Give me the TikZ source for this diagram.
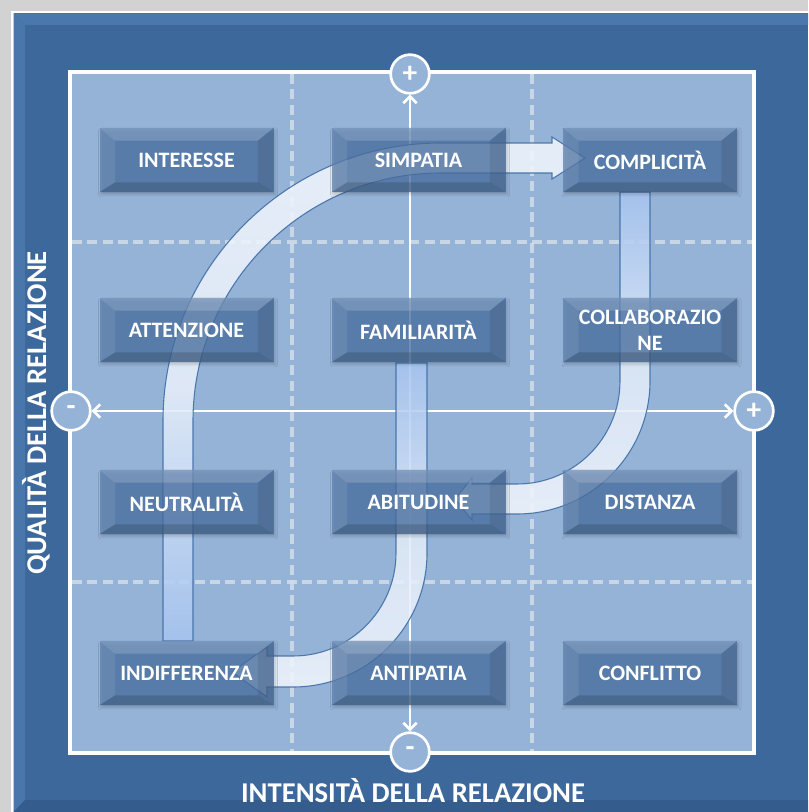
\documentclass[tikz,border=0pt]{standalone}
\usepackage{fontspec}
\setmainfont{Carlito}
\usetikzlibrary{arrows.meta,shadows.blur}

\definecolor{outergrey}{HTML}{D2D2D2}
\definecolor{frameblue}{HTML}{3D689B}
\definecolor{framelight}{HTML}{4A78AE}
\definecolor{framedark}{HTML}{345C8C}
\definecolor{panelblue}{HTML}{95B3D7}
\definecolor{boxblue}{HTML}{4C74A7}
\definecolor{bandedge}{HTML}{3E6DA6}
\definecolor{bandlight}{HTML}{F0F5FC}
\definecolor{bandblue}{HTML}{A6C4EF}
\definecolor{gridline}{HTML}{D3DDE9}

\tikzset{
  quadbox/.style={rectangle, minimum width=130.5pt, minimum height=48pt, inner sep=0pt,
    fill=boxblue, fill opacity=0.72, text opacity=1, text=white,
    font=\bfseries\fontsize{16.5}{19.5}\selectfont, align=center,
    blur shadow={shadow xshift=1.2pt, shadow yshift=-1.8pt, shadow blur steps=6, shadow opacity=25}},
  pmcircle/.style={circle, draw=white, line width=2pt, fill=panelblue, minimum size=29pt,
    inner sep=0pt, text=white, font=\bfseries\fontsize{22}{22}\selectfont},
  axisline/.style={draw=white, line width=2pt,
    arrows={Straight Barb[length=5pt,width=10pt]-Straight Barb[length=5pt,width=10pt]}},
  gridrule/.style={draw=gridline, opacity=0.85, line width=2.5pt, dash pattern=on 7.5pt off 4pt},
  band/.style={draw=bandedge, line width=0.8pt, fill opacity=0.88, draw opacity=0.9},
  axislabel/.style={text=white, font=\bfseries\fontsize{21.5}{24}\selectfont, inner sep=0pt},
}

% light and dark faces of a bevelled box
\newcommand\bevelfaces[1]{%
  \fill[white, opacity=0.17] (#1.north west) -- (#1.north east) -- ([shift={(-16,13)}]#1.north east) -- ([shift={(16,13)}]#1.north west) -- cycle;
  \fill[white, opacity=0.08] (#1.north west) -- ([shift={(16,13)}]#1.north west) -- ([shift={(16,-10)}]#1.south west) -- (#1.south west) -- cycle;
  \fill[black, opacity=0.09] (#1.north east) -- (#1.south east) -- ([shift={(-16,-10)}]#1.south east) -- ([shift={(-16,13)}]#1.north east) -- cycle;
  \fill[black, opacity=0.15] (#1.south west) -- (#1.south east) -- ([shift={(-16,-10)}]#1.south east) -- ([shift={(16,-10)}]#1.south west) -- cycle;
}

\begin{document}
\begin{tikzpicture}[x=0.75pt, y=-0.75pt]
\useasboundingbox (0,0) rectangle (808,812);

% outer frame
\fill[outergrey] (0,0) rectangle (808,812);
\fill[white] (11,11) rectangle (808,812);
\fill[frameblue] (13.5,13.5) rectangle (808,812);
\fill[framelight] (13.5,13.5) -- (808,13.5) -- (808,25) -- (25,25) -- cycle;
\fill[framelight!92!frameblue] (13.5,13.5) -- (25,25) -- (25,800) -- (13.5,812) -- cycle;
\fill[framedark] (13.5,812) -- (25,800) -- (808,800) -- (808,812) -- cycle;

% inner panel
\fill[panelblue] (70,72) rectangle (754,753);

% dashed grid
\draw[gridrule] (292,74) -- (292,751);
\draw[gridrule] (532,74) -- (532,751);
\draw[gridrule] (72,242) -- (752,242);
\draw[gridrule] (72,582) -- (752,582);

\draw[white, line width=2.8pt] (70,72) rectangle (754,753);

% axis end markers
\node[pmcircle] (ctop) at (410,74) {+};
\node[pmcircle] (cbot) at (410,752) {-};
\node[pmcircle] (cleft) at (71,411) {-};
\node[pmcircle] (cright) at (754,411) {+};

% axes
\draw[axisline] (cbot) -- (ctop);
\draw[axisline] (cleft) -- (cright);

% curved flow bands
\shade[band, top color=bandlight, bottom color=bandblue, middle color=bandlight!88!bandblue]
  (163,641) -- (163,421) arc[start angle=180, end angle=270, radius=278]
  -- (552,143) -- (552,137) -- (585,158) -- (552,179) -- (552,173)
  -- (441,173) arc[start angle=270, end angle=180, radius=248]
  -- (193,641) -- cycle;

\shade[band, top color=bandblue, bottom color=bandlight, middle color=bandlight!78!bandblue]
  (620,192) -- (650,192) -- (650,381) arc[start angle=0, end angle=90, radius=133]
  -- (472,514) -- (472,520) -- (455,499) -- (472,478) -- (472,484)
  -- (517,484) arc[start angle=90, end angle=0, radius=103]
  -- cycle;

\shade[band, top color=bandblue, bottom color=bandlight, middle color=bandlight!78!bandblue]
  (396,363) -- (427,363) -- (427,553) arc[start angle=0, end angle=90, radius=134]
  -- (267,687) -- (267,697) -- (232,672) -- (267,647) -- (267,656)
  -- (293,656) arc[start angle=90, end angle=0, radius=103]
  -- cycle;

% bevelled boxes
\node[quadbox] (interesse)   at (186.5,160) {INTERESSE};
\node[quadbox] (simpatia)    at (418.5,160) {SIMPATIA};
\node[quadbox] (complicita)  at (650,160)   {COMPLICITÀ};
\node[quadbox] (attenzione)  at (186.5,330) {ATTENZIONE};
\node[quadbox] (familiarita) at (418.5,330) {FAMILIARITÀ};
\node[quadbox] (collab)      at (650,330)   {COLLABORAZIO\\NE};
\node[quadbox] (neutralita)  at (186.5,502) {NEUTRALITÀ};
\node[quadbox] (abitudine)   at (418.5,502) {ABITUDINE};
\node[quadbox] (distanza)    at (650,502)   {DISTANZA};
\node[quadbox] (indiff)      at (186.5,673) {INDIFFERENZA};
\node[quadbox] (antipatia)   at (418.5,673) {ANTIPATIA};
\node[quadbox] (conflitto)   at (650,673)   {CONFLITTO};

\foreach \b in {interesse,simpatia,complicita,attenzione,familiarita,collab,
                neutralita,abitudine,distanza,indiff,antipatia,conflitto}
  {\bevelfaces{\b}}

% axis titles
\node[axislabel] (xtitle) at (413,791) {INTENSITÀ DELLA RELAZIONE};
\node[axislabel, rotate=90] (ytitle) at (36,413) {QUALITÀ DELLA RELAZIONE};
\end{tikzpicture}
\end{document}
